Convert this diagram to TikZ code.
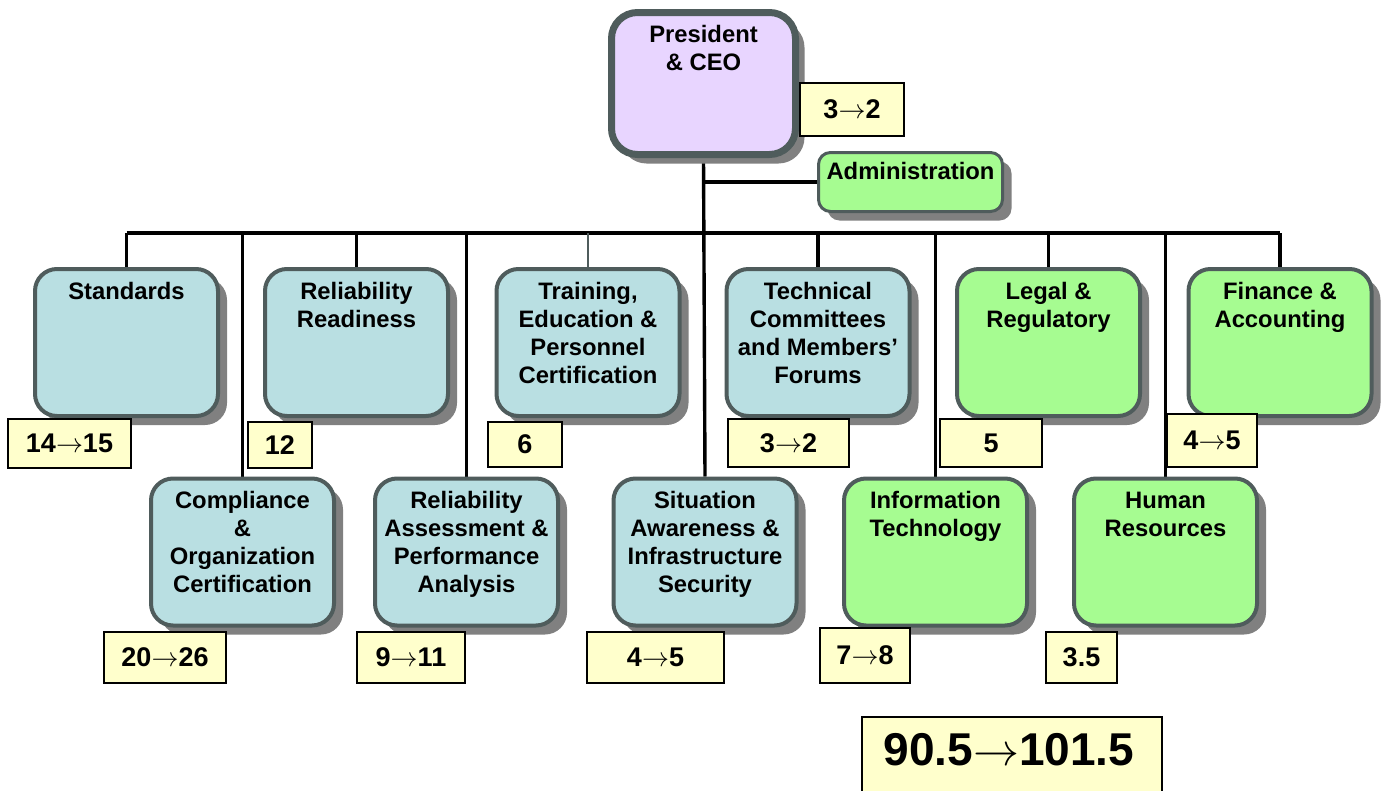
\RequirePackage{fix-cm}
\documentclass[tikz,border=0pt]{standalone}
\usepackage{fontspec}
\setmainfont{Liberation Sans}
\usetikzlibrary{shadows,backgrounds}
\definecolor{edge}{RGB}{79,92,92}
\definecolor{shade}{RGB}{128,128,128}
\definecolor{ceo}{RGB}{232,213,255}
\definecolor{tech}{RGB}{185,223,226}
\definecolor{staff}{RGB}{166,252,145}
\definecolor{countfill}{RGB}{255,255,204}
\newcommand{\becomes}{\ensuremath{\rightarrow}}

\begin{document}
\begin{tikzpicture}[x = 1pt, y = -1pt,
    unit/.style = {draw = edge, line width = 4pt, rounded corners = 22pt,
        minimum width = 183pt, minimum height = 147pt,
        drop shadow = {shadow xshift = 9pt, shadow yshift = -9pt, fill = shade, opacity = 1}},
    techunit/.style = {unit, fill = tech},
    staffunit/.style = {unit, fill = staff},
    title/.style = {anchor = north, align = center, inner sep = 0pt,
        font = \fontsize{23.8}{28}\selectfont\bfseries},
    count/.style = {draw, line width = 1.5pt, fill = countfill, inner sep = 0pt,
        font = \fontsize{27}{30}\selectfont\bfseries},
    link/.style = {line width = 3.4pt}]%
    \useasboundingbox (0, 0) rectangle (1387, 790);
    \node[unit, fill = ceo, line width = 7pt, rounded corners = 26pt,
        minimum width = 184pt, minimum height = 142pt] (pres) at (703.5, 83.5) {};
    \node[staffunit, line width = 3pt, rounded corners = 12pt,
        minimum width = 184pt, minimum height = 59pt] (adm) at (910.5, 182) {};
    \node[techunit] (std) at (126.5, 342.5) {};
    \node[techunit] (rr) at (356.5, 342.5) {};
    \node[techunit] (trn) at (588, 342.5) {};
    \node[techunit] (tcm) at (818, 342.5) {};
    \node[staffunit] (legal) at (1048.5, 342.5) {};
    \node[staffunit] (fin) at (1280, 342.5) {};
    \node[techunit] (comp) at (242.5, 552) {};
    \node[techunit] (ra) at (466.5, 552) {};
    \node[techunit] (sa) at (705, 552) {};
    \node[staffunit] (it) at (935.5, 552) {};
    \node[staffunit] (hr) at (1165.5, 552) {};
    \node[title] (prest) at ([yshift = -16pt] pres.north) {President\\\& CEO};
    \node[title] (admt) at ([yshift = -11pt] adm.north) {Administration};
    \node[title] (stdt) at ([yshift = -15pt] std.north) {Standards};
    \node[title] (rrt) at ([yshift = -15pt] rr.north) {Reliability\\Readiness};
    \node[title] (trnt) at ([yshift = -15pt] trn.north) {Training,\\Education \&\\Personnel\\Certification};
    \node[title] (tcmt) at ([yshift = -15pt] tcm.north) {Technical\\Committees\\and Members’\\Forums};
    \node[title] (legalt) at ([yshift = -15pt] legal.north) {Legal \&\\Regulatory};
    \node[title] (fint) at ([yshift = -15pt] fin.north) {Finance \&\\Accounting};
    \node[title] (compt) at ([yshift = -15pt] comp.north) {Compliance\\\&\\Organization\\Certification};
    \node[title] (rat) at ([yshift = -15pt] ra.north) {Reliability\\Assessment \&\\Performance\\Analysis};
    \node[title] (sat) at ([yshift = -15pt] sa.north) {Situation\\Awareness \&\\Infrastructure\\Security};
    \node[title] (itt) at ([yshift = -15pt] it.north) {Information\\Technology};
    \node[title] (hrt) at ([yshift = -15pt] hr.north) {Human\\Resources};
    \node[count, minimum width = 104pt, minimum height = 53pt] (cpres) at (852, 109.5) {3\becomes2};
    \node[count, minimum width = 123pt, minimum height = 49pt] (cstd) at (69.5, 443.5) {14\becomes15};
    \node[count, minimum width = 64pt, minimum height = 46pt] (crr) at (280, 445) {12};
    \node[count, minimum width = 74pt, minimum height = 45pt] (ctrn) at (525, 444.5) {6};
    \node[count, minimum width = 121pt, minimum height = 48pt] (ctcm) at (788.5, 443) {3\becomes2};
    \node[count, minimum width = 102pt, minimum height = 48pt] (clegal) at (991, 443) {5};
    \node[count, minimum width = 90pt, minimum height = 53pt] (cfin) at (1212, 440.5) {4\becomes5};
    \node[count, minimum width = 122pt, minimum height = 51pt] (ccomp) at (165, 657.5) {20\becomes26};
    \node[count, minimum width = 108pt, minimum height = 51pt] (cra) at (411, 657.5) {9\becomes11};
    \node[count, minimum width = 137pt, minimum height = 51pt] (csa) at (655.5, 657.5) {4\becomes5};
    \node[count, minimum width = 90pt, minimum height = 55pt] (cit) at (865, 655.5) {7\becomes8};
    \node[count, minimum width = 71pt, minimum height = 51pt] (chr) at (1081.5, 657.5) {3.5};
    \node[count, minimum width = 300pt, minimum height = 90pt] (total) at (1012, 762) {};
    \node[font = \fontsize{46}{50}\selectfont\bfseries] (totalt) at (1009, 750) {90.5\becomes101.5};
    \begin{scope}[on background layer]
        \coordinate (bus) at (0, 233);
        \draw[link] (pres.south) -- (sa.north);
        \draw[link] (pres.south |- adm.west) -- (adm.west);
        \draw[link] (std.north |- bus) -- (fin.north |- bus);
        \foreach \u in {std, rr, tcm, legal, fin, comp, ra, it, hr}
            \draw[link] (\u.north |- bus) -- (\u.north);
        \draw[link, draw = edge, line width = 2.5pt] (trn.north |- bus) -- (trn.north);
    \end{scope}
\end{tikzpicture}
\end{document}
